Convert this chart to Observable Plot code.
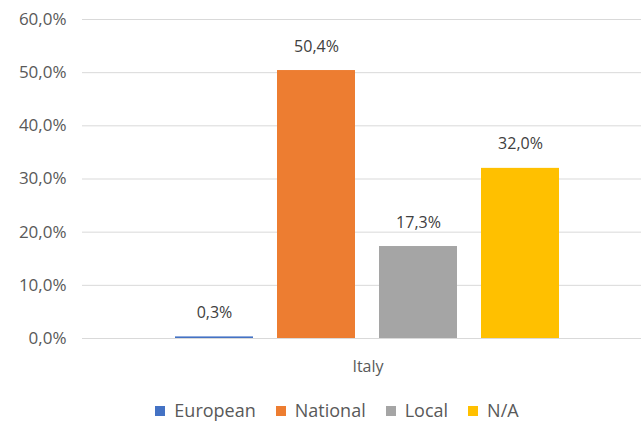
<!DOCTYPE html>
<html>
<head>
<meta charset="utf-8">
<script src="https://cdn.jsdelivr.net/npm/d3@7"></script>
<script src="https://cdn.jsdelivr.net/npm/@observablehq/plot@0.6"></script>
<style>
  body { margin: 0; background: #fff; font-family: "Open Sans", sans-serif; }
  #legend { display: flex; justify-content: center; gap: 20px; font-size: 18px; color: #595959; padding-left: 33px; margin-top: 6px; line-height: 24px; }
  #legend span.sw { display: inline-block; width: 10px; height: 10px; margin-right: 9px; vertical-align: 1px; }
</style>
</head>
<body>
<div id="chart"></div>
<div id="legend"></div>
<script>
const country = "Italy";
const series = ["European", "National", "Local", "N/A"];
const values = [0.3, 50.4, 17.3, 32.0];
const yTicks = [0, 10, 20, 30, 40, 50, 60];

const data = series.map((s, i) => ({country, series: s, value: values[i]}));
const fmt = d => d.toFixed(1).replace(".", ",") + "%";
const palette = ["#4472C4", "#ED7D31", "#A5A5A5", "#FFC000"];

const chart = Plot.plot({
  width: 641,
  height: 392,
  marginTop: 19,
  marginBottom: 54,
  marginLeft: 94,
  marginRight: 0,
  style: {fontFamily: "Open Sans, sans-serif", fontSize: "16px", color: "#595959"},
  fx: {domain: [country], padding: 0, label: null},
  x: {domain: series, paddingInner: 0.235, paddingOuter: 0.79, axis: null},
  y: {domain: [0, 60], label: null},
  color: {domain: series, range: palette},
  marks: [
    Plot.gridY(yTicks, {stroke: "#d9d9d9", strokeOpacity: 1, strokeWidth: 1}),
    Plot.axisY(yTicks, {tickSize: 12, tickPadding: 16, stroke: "#d9d9d9", fill: "#595959", tickFormat: fmt, fontSize: 17, label: null}),
    Plot.axisFx({anchor: "bottom", tickSize: 0, tickPadding: 22, fontSize: 16, fill: "#595959", label: null}),
    Plot.barY(data, {fx: "country", x: "series", y: "value", fill: "series"}),
    Plot.text(data, {fx: "country", x: "series", y: "value", text: d => fmt(d.value), dy: -24, fontSize: 16, fill: "#404040"})
  ]
});
document.getElementById("chart").appendChild(chart);

const legend = document.getElementById("legend");
series.forEach((s, i) => {
  const item = document.createElement("div");
  item.innerHTML = `<span class="sw" style="background:${palette[i]}"></span>${s}`;
  legend.appendChild(item);
});
</script>
</body>
</html>
